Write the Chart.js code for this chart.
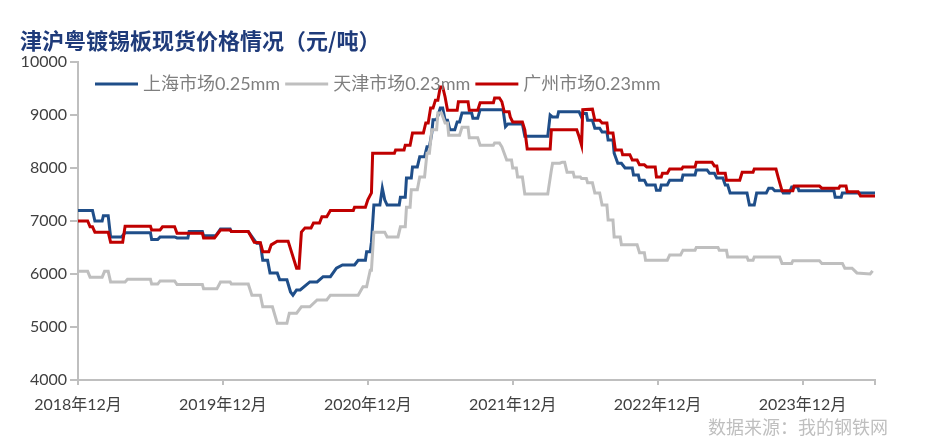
<!DOCTYPE html>
<html>
<head>
<meta charset="utf-8">
<script src="https://cdn.jsdelivr.net/npm/chart.js@4"></script>
<style>
  body { margin: 0; background: #fff; }
  #wrap { width: 927px; height: 444px; }
</style>
</head>
<body>
<div id="wrap"><canvas id="tinplateChart" width="927" height="444"></canvas></div>
<script>
// x = months since 2018-12, y = price (元/吨)
const xTickLabels = ['2018年12月', '2019年12月', '2020年12月', '2021年12月', '2022年12月', '2023年12月'];
const seriesNames = ['上海市场0.25mm', '天津市场0.23mm', '广州市场0.23mm'];

const shanghai025 = [
  [0, 7200], [1.2, 7200], [1.4, 7000], [2.0, 7000], [2.1, 7100], [2.5, 7100], [2.7, 6700], [3.6, 6700],
  [3.9, 6780], [6.0, 6780], [6.1, 6650], [6.6, 6650], [6.8, 6700], [8.0, 6700], [8.2, 6680], [9.1, 6680],
  [9.2, 6800], [10.3, 6800], [10.4, 6720], [11.4, 6720], [11.8, 6850], [12.6, 6850], [12.7, 6800], [14.1, 6800],
  [14.8, 6580], [15.1, 6580], [15.3, 6260], [15.7, 6260], [15.9, 6020], [16.5, 6020], [16.7, 5890], [17.3, 5890],
  [17.6, 5660], [17.8, 5600], [18.1, 5700], [18.4, 5700], [19.2, 5850], [19.8, 5850], [20.3, 5950], [20.9, 5950],
  [21.4, 6110], [21.9, 6170], [22.9, 6170], [23.2, 6260], [23.8, 6260], [23.9, 6420], [24.2, 6420], [24.3, 6600],
  [24.5, 7300], [25.0, 7300], [25.2, 7620], [25.4, 7400], [25.6, 7300], [26.6, 7300], [26.7, 7450], [27.1, 7450],
  [27.2, 7810], [27.6, 7810], [27.7, 8020], [28.1, 8020], [28.3, 8210], [28.7, 8210], [28.9, 8400], [29.1, 8400],
  [29.3, 8660], [29.4, 8910], [29.7, 8910], [30.0, 9130], [30.2, 9130], [30.4, 8900], [30.6, 8900], [30.8, 8720],
  [31.2, 8720], [31.4, 8870], [31.6, 8870], [31.8, 9040], [32.6, 9040], [32.7, 8940], [33.1, 8940], [33.3, 9100],
  [35.2, 9100], [35.4, 8780], [35.6, 8830], [36.8, 8830], [37.0, 8600], [38.9, 8600], [39.1, 9000], [39.3, 8960],
  [39.7, 8960], [39.8, 9060], [41.5, 9060], [41.7, 8960], [41.8, 9030], [42.1, 9030], [42.2, 8900], [42.6, 8900],
  [42.8, 8750], [43.2, 8750], [43.4, 8680], [43.8, 8680], [43.9, 8530], [44.3, 8530], [44.4, 8280], [44.7, 8090],
  [45.0, 8090], [45.3, 8000], [45.9, 8000], [46.0, 7870], [46.4, 7870], [46.5, 7770], [46.9, 7770], [47.1, 7680],
  [47.8, 7680], [47.9, 7580], [48.2, 7580], [48.3, 7680], [48.8, 7680], [49.0, 7770], [50.0, 7770], [50.1, 7870],
  [51.1, 7870], [51.2, 7960], [52.1, 7960], [52.3, 7900], [52.7, 7900], [52.9, 7810], [53.4, 7810], [53.6, 7680],
  [53.8, 7680], [54.0, 7530], [55.4, 7530], [55.6, 7300], [56.0, 7300], [56.2, 7530], [57.0, 7530], [57.2, 7620],
  [57.5, 7620], [57.7, 7570], [58.3, 7570], [58.4, 7530], [58.9, 7530], [59.1, 7640], [59.6, 7640], [59.7, 7570],
  [62.6, 7570], [62.7, 7450], [63.2, 7450], [63.3, 7530], [66.0, 7530]
];

const tianjin023 = [
  [0, 6050], [0.8, 6050], [1.0, 5940], [2.0, 5940], [2.2, 6050], [2.5, 6050], [2.7, 5850], [3.9, 5850],
  [4.1, 5900], [6.0, 5900], [6.1, 5810], [6.6, 5810], [6.8, 5870], [8.0, 5870], [8.2, 5800], [10.3, 5800],
  [10.4, 5720], [11.5, 5720], [11.8, 5850], [12.6, 5850], [12.7, 5810], [14.1, 5810], [14.4, 5600], [15.1, 5600],
  [15.3, 5380], [16.1, 5380], [16.5, 5070], [17.3, 5070], [17.5, 5260], [18.1, 5260], [18.5, 5380], [19.2, 5380],
  [19.8, 5510], [20.6, 5510], [20.9, 5600], [23.2, 5600], [23.6, 5760], [23.9, 5760], [24.2, 6070], [24.3, 6070],
  [24.5, 6790], [25.4, 6790], [25.6, 6700], [26.5, 6700], [26.7, 6890], [27.1, 6890], [27.2, 7260], [27.5, 7260],
  [27.6, 7590], [28.1, 7590], [28.3, 7830], [28.7, 7830], [28.9, 8280], [29.1, 8280], [29.3, 8720], [29.7, 8720],
  [29.8, 9040], [30.1, 9040], [30.4, 8850], [30.6, 8850], [30.7, 8620], [31.6, 8620], [31.8, 8770], [32.3, 8770],
  [32.4, 8570], [33.1, 8570], [33.3, 8430], [34.4, 8430], [34.5, 8470], [34.9, 8470], [35.1, 8400], [35.5, 8150],
  [35.9, 8150], [36.0, 8000], [36.3, 8000], [36.4, 7830], [36.8, 7830], [37.0, 7510], [38.9, 7510], [39.2, 7960],
  [39.3, 8090], [39.9, 8090], [40.1, 8110], [40.3, 8110], [40.5, 7920], [41.0, 7920], [41.1, 7830], [41.6, 7830],
  [41.7, 7800], [42.1, 7800], [42.2, 7720], [42.6, 7720], [42.8, 7530], [43.2, 7530], [43.4, 7300], [43.8, 7300],
  [43.9, 7020], [44.3, 7020], [44.4, 6700], [44.9, 6700], [45.0, 6550], [46.3, 6550], [46.5, 6400], [46.9, 6400],
  [47.0, 6260], [48.8, 6260], [49.0, 6360], [49.9, 6360], [50.1, 6450], [51.1, 6450], [51.2, 6500], [53.0, 6500],
  [53.1, 6450], [53.7, 6450], [53.8, 6320], [55.4, 6320], [55.5, 6260], [55.9, 6260], [56.0, 6320], [58.1, 6320],
  [58.3, 6200], [59.1, 6200], [59.2, 6250], [61.4, 6250], [61.6, 6200], [63.3, 6200], [63.5, 6110], [64.1, 6110],
  [64.5, 6020], [65.6, 6000], [65.8, 6060]
];

const guangzhou023 = [
  [0, 7000], [0.8, 7000], [1.0, 6890], [1.2, 6890], [1.4, 6790], [2.5, 6790], [2.7, 6600], [3.7, 6600],
  [3.9, 6900], [6.0, 6900], [6.1, 6830], [6.8, 6830], [7.0, 6890], [8.0, 6890], [8.2, 6770], [10.3, 6770],
  [10.4, 6680], [11.3, 6680], [11.8, 6830], [12.6, 6830], [12.7, 6800], [14.1, 6800], [14.6, 6600], [15.1, 6590],
  [15.3, 6420], [15.8, 6420], [16.0, 6550], [16.5, 6620], [17.4, 6620], [18.1, 6110], [18.3, 6110], [18.5, 6790],
  [18.8, 6870], [19.3, 6870], [19.5, 6960], [20.0, 6960], [20.2, 7080], [20.6, 7080], [20.9, 7200], [22.8, 7200],
  [22.9, 7260], [23.8, 7260], [24.0, 7400], [24.3, 7530], [24.4, 8280], [26.2, 8280], [26.3, 8340], [27.0, 8340],
  [27.1, 8430], [27.5, 8430], [27.7, 8660], [28.6, 8660], [28.8, 8850], [29.0, 8850], [29.2, 9130], [29.4, 9130],
  [29.6, 9280], [29.8, 9280], [30.0, 9530], [30.2, 9530], [30.4, 9340], [30.6, 9090], [31.4, 9090], [31.5, 9250],
  [32.3, 9250], [32.4, 9090], [33.1, 9090], [33.3, 9230], [34.4, 9230], [34.5, 9320], [34.9, 9320], [35.1, 9250],
  [35.3, 9060], [35.7, 9060], [35.8, 8960], [36.0, 8870], [36.8, 8870], [37.0, 8720], [37.2, 8360], [39.1, 8360],
  [39.2, 8720], [41.3, 8720], [41.5, 8590], [41.7, 8430], [41.8, 9100], [42.6, 9110], [42.8, 8900], [43.2, 8900],
  [43.4, 8850], [43.8, 8850], [43.9, 8660], [44.3, 8660], [44.5, 8340], [45.0, 8340], [45.1, 8250], [45.7, 8250],
  [45.9, 8150], [46.3, 8150], [46.5, 8060], [46.9, 8060], [47.1, 8020], [47.8, 8020], [47.9, 7830], [48.3, 7830],
  [48.4, 7900], [48.8, 7900], [49.0, 7980], [50.0, 7980], [50.1, 8020], [51.1, 8020], [51.2, 8110], [52.5, 8110],
  [52.7, 8040], [52.9, 8040], [53.0, 7900], [53.6, 7900], [53.7, 7770], [54.8, 7770], [55.0, 7920], [55.9, 7920],
  [56.0, 7980], [57.8, 7980], [58.0, 7810], [58.3, 7570], [59.2, 7570], [59.3, 7660], [61.4, 7660], [61.6, 7620],
  [63.0, 7620], [63.1, 7660], [63.6, 7660], [63.7, 7550], [64.6, 7550], [64.8, 7470], [66.0, 7470]
];

const toPoints = arr => arr.map(([x, y]) => ({ x, y }));

// title, legend inside the plot and source note, drawn like the original
const overlayText = {
  id: 'overlayText',
  afterDraw(chart) {
    const ctx = chart.ctx;
    ctx.save();
    ctx.textBaseline = 'middle';
    ctx.font = 'bold 22px "Noto Sans CJK SC"';
    ctx.fillStyle = '#1F3B7A';
    ctx.fillText('津沪粤镀锡板现货价格情况（元/吨）', 20, 41);

    ctx.font = '18px Lato, "Noto Sans CJK SC"';
    let x = 95;
    const y = 84;
    chart.data.datasets.forEach(ds => {
      ctx.strokeStyle = ds.borderColor;
      ctx.lineWidth = 3;
      ctx.beginPath();
      ctx.moveTo(x, y);
      ctx.lineTo(x + 43, y);
      ctx.stroke();
      ctx.fillStyle = '#7F7F7F';
      ctx.fillText(ds.label, x + 48, y);
      x += 48 + ctx.measureText(ds.label).width + 5;
    });

    ctx.font = '18px "Noto Sans CJK SC"';
    ctx.fillStyle = '#BFBFBF';
    ctx.textAlign = 'right';
    ctx.fillText('数据来源：我的钢铁网', 888, 427);
    ctx.restore();
  }
};

const ctx = document.getElementById('tinplateChart').getContext('2d');
new Chart(ctx, {
  type: 'line',
  data: {
    datasets: [
      { label: seriesNames[0], data: toPoints(shanghai025), borderColor: '#1F4E89', order: 2 },
      { label: seriesNames[1], data: toPoints(tianjin023), borderColor: '#BFBFBF', order: 1 },
      { label: seriesNames[2], data: toPoints(guangzhou023), borderColor: '#C00000', order: 0 }
    ]
  },
  options: {
    responsive: false,
    animation: false,
    datasets: {
      line: { borderWidth: 3, pointRadius: 0, tension: 0, fill: false }
    },
    layout: { padding: { top: 62, right: 52, bottom: 24, left: 0 } },
    plugins: {
      legend: { display: false },
      title: { display: false },
      tooltip: { enabled: false }
    },
    scales: {
      x: {
        type: 'linear',
        min: 0,
        max: 66,
        afterFit: s => { s.height = 40; },
        border: { color: '#BFBFBF', width: 2 },
        grid: { drawOnChartArea: false, color: '#BFBFBF', tickLength: 5, lineWidth: 2 },
        ticks: {
          stepSize: 12,
          padding: 10,
          maxRotation: 0,
          color: '#404040',
          font: { family: 'Lato, "Noto Sans CJK SC"', size: 16 },
          callback: v => xTickLabels[v / 12] || ''
        }
      },
      y: {
        min: 4000,
        max: 10000,
        afterFit: s => { s.width = 78; },
        border: { color: '#BFBFBF', width: 2 },
        grid: { drawOnChartArea: false, color: '#BFBFBF', tickLength: 8, lineWidth: 2 },
        ticks: {
          stepSize: 1000,
          padding: 3,
          color: '#404040',
          font: { family: 'Lato', size: 16 },
          callback: v => String(v)
        }
      }
    }
  },
  plugins: [overlayText]
});
</script>
</body>
</html>
